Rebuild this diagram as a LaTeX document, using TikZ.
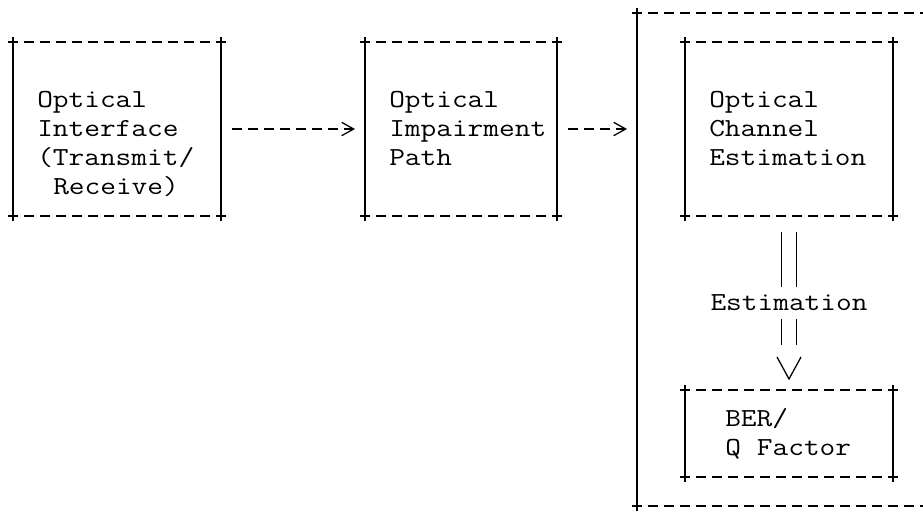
\documentclass[tikz,border=0pt]{standalone}
\usepackage{fontspec}
\newfontfamily\termfont{Latin Modern Mono}[FakeStretch=1.172]
\newcommand\termtext{\termfont\fontsize{19.5pt}{21.75pt}\selectfont}
\usetikzlibrary{arrows.meta}

\tikzset{
  mono/.style={font=\termtext},
  box/.style={rectangle,draw=none,inner sep=0pt,outer sep=0pt,
    minimum width=156pt,minimum height=130.5pt},
  txt/.style={mono,inner sep=0pt,text width=130pt,align=left,anchor=base west},
  est/.style={mono,fill=white,inner sep=0pt,text height=17.6pt,text depth=6.4pt},
  hrule/.style={line width=0.95pt,dash pattern=on 7.5pt off 4.5pt},
  vrule/.style={line width=0.95pt},
  flow/.style={line width=0.95pt,dash pattern=on 7.5pt off 4.5pt,
    -{Straight Barb[length=9pt,width=10pt]},shorten <=8.25pt,shorten >=7.5pt},
  dbl/.style={line width=0.95pt,double,double distance=10pt,
    shorten <=12pt,shorten >=33.75pt}
}

\begin{document}
\begin{tikzpicture}[x=0.75pt,y=-0.75pt]
\useasboundingbox (0,0) rectangle (923,515);

% blocks
\node[box] (iface) at (117,129) {};
\node[box,minimum width=144pt] (impair) at (461,129) {};
\node[box] (chan) at (789,129) {};
\node[box,minimum height=65.25pt] (ber) at (789,433.5) {};
\node[box,minimum width=214.5pt,minimum height=369.75pt] (estunit) at (780,259.5) {};

% block texts
\node[txt] (ifacetxt) at (37,107.5) {Optical\\Interface\\(Transmit/\\\hspace*{12pt}Receive)};
\node[txt] (impairtxt) at (389,107.5) {Optical\\Impairment\\Path};
\node[txt] (chantxt) at (709,107.5) {Optical\\Channel\\Estimation};
\node[txt] (bertxt) at (725,426.5) {BER/\\Q\hspace{12pt}Factor};

% frames
\foreach \b in {iface,impair,chan,ber}{
  \draw[hrule] ([xshift=-3.75pt]\b.north west) -- ([xshift=3.75pt]\b.north east);
  \draw[hrule] ([xshift=-3.75pt]\b.south west) -- ([xshift=3.75pt]\b.south east);
  \draw[vrule] ([yshift=3.75pt]\b.north west) -- ([yshift=-3.75pt]\b.south west);
  \draw[vrule] ([yshift=3.75pt]\b.north east) -- ([yshift=-3.75pt]\b.south east);
}
\draw[hrule] ([xshift=-3.75pt]estunit.north west) -- (estunit.north east);
\draw[hrule] ([xshift=-3.75pt]estunit.south west) -- (estunit.south east);
\draw[vrule] ([yshift=3.75pt]estunit.north west) -- ([yshift=-3.75pt]estunit.south west);

% connectors
\draw[flow] (iface.east) -- (impair.west);
\draw[flow] (impair.east) -- (impair.east -| estunit.west);
\draw[dbl] (chan.south) -- node[est] (est) {Estimation} (ber.north);
\coordinate (vtip) at ([yshift=8.25pt]ber.north);
\draw[vrule] ([shift={(-9pt,16.5pt)}]vtip) -- (vtip) -- ([shift={(9pt,16.5pt)}]vtip);
\end{tikzpicture}
\end{document}
